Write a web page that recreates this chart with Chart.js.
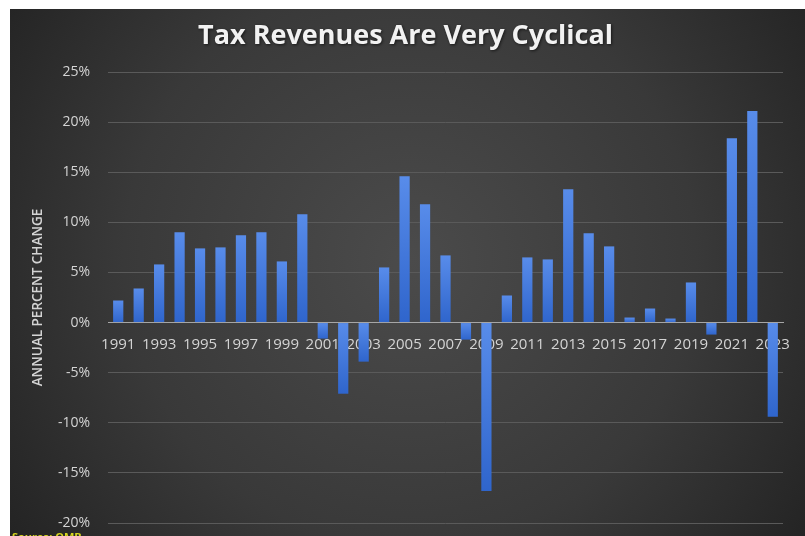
<!DOCTYPE html>
<html>
<head>
<meta charset="utf-8">
<script src="https://cdn.jsdelivr.net/npm/chart.js@4/dist/chart.umd.min.js"></script>
<style>
  html, body { margin: 0; padding: 0; background: #ffffff; }
  #wrap { width: 805px; height: 536px; position: relative; }
</style>
</head>
<body>
<div id="wrap"><canvas id="c" width="805" height="536"></canvas></div>
<script>
const titleText = 'Tax Revenues Are Very Cyclical';
const yAxisTitle = 'ANNUAL PERCENT CHANGE';
const sourceText = 'Source: OMB';
const years = ['1991','1992','1993','1994','1995','1996','1997','1998','1999','2000',
  '2001','2002','2003','2004','2005','2006','2007','2008','2009','2010',
  '2011','2012','2013','2014','2015','2016','2017','2018','2019','2020',
  '2021','2022','2023'];
const percentChange = [2.2, 3.4, 5.8, 9.0, 7.4, 7.5, 8.7, 9.0, 6.1, 10.8,
  -1.6, -7.1, -3.9, 5.5, 14.6, 11.8, 6.7, -1.7, -16.8, 2.7,
  6.5, 6.3, 13.3, 8.9, 7.6, 0.5, 1.4, 0.4, 4.0, -1.2,
  18.4, 21.1, -9.4];
const yTicks = [-20, -15, -10, -5, 0, 5, 10, 15, 20, 25];

const bgPlugin = {
  id: 'bg',
  beforeDraw(chart) {
    const ctx = chart.ctx;
    ctx.save();
    ctx.fillStyle = '#ffffff';
    ctx.fillRect(0, 0, chart.width, chart.height);
    const g = ctx.createRadialGradient(410, 260, 0, 410, 260, 520);
    g.addColorStop(0, '#4b4b4b');
    g.addColorStop(0.55, '#393939');
    g.addColorStop(1, '#202020');
    ctx.fillStyle = g;
    ctx.fillRect(10, 9, chart.width - 10, chart.height - 9);
    // title
    ctx.font = 'bold 27px "Open Sans"';
    ctx.fillStyle = '#f2f2f2';
    ctx.textAlign = 'center';
    ctx.textBaseline = 'middle';
    ctx.shadowColor = 'rgba(0,0,0,0.6)';
    ctx.shadowBlur = 3;
    ctx.shadowOffsetX = 1;
    ctx.shadowOffsetY = 1;
    ctx.fillText(titleText, 405.5, 36);
    ctx.restore();
  },
  afterDraw(chart) {
    const ctx = chart.ctx;
    ctx.save();
    ctx.font = 'bold 11px "Open Sans"';
    ctx.fillStyle = '#d6d61e';
    ctx.textBaseline = 'top';
    ctx.textAlign = 'left';
    ctx.fillText(sourceText, 12, 532);
    ctx.restore();
  }
};

function barFill(context) {
  const chart = context.chart;
  const ys = chart.scales.y;
  if (!chart.chartArea || !ys) return '#3d70d2';
  const v = context.raw;
  const p1 = ys.getPixelForValue(v);
  const p0 = ys.getPixelForValue(0);
  const top = Math.min(p0, p1), bot = Math.max(p0, p1);
  if (!isFinite(top) || bot - top < 1) return '#3d70d2';
  const g = chart.ctx.createLinearGradient(0, top, 0, bot);
  g.addColorStop(0, '#588cea');
  g.addColorStop(1, '#2f65cc');
  return g;
}

new Chart(document.getElementById('c'), {
  type: 'bar',
  data: {
    labels: years,
    datasets: [{
      data: percentChange,
      backgroundColor: barFill,
      borderWidth: 0,
      categoryPercentage: 1.0,
      barPercentage: 0.5
    }]
  },
  plugins: [bgPlugin],
  options: {
    responsive: false,
    animation: false,
    devicePixelRatio: 1,
    layout: { padding: { left: 8, right: 22, top: 72, bottom: 13 } },
    plugins: {
      legend: { display: false },
      tooltip: { enabled: false },
      title: { display: false }
    },
    scales: {
      x: {
        position: { y: 0 },
        afterFit(scale) { scale.height = 0; },
        grid: { display: false },
        border: { display: true, color: '#a6a6a6', width: 1 },
        ticks: {
          autoSkip: false,
          maxRotation: 0,
          minRotation: 0,
          padding: 5,
          color: '#d4d4d4',
          font: { family: 'Open Sans', size: 15 },
          callback: function(val, idx) { return idx % 2 === 0 ? this.getLabelForValue(val) : ''; }
        }
      },
      y: {
        min: -20,
        max: 25,
        afterBuildTicks(scale) { scale.ticks = yTicks.map(v => ({ value: v })); },
        afterFit(scale) { scale.width = 100; },
        grid: {
          drawTicks: true,
          tickLength: 16,
          tickColor: 'rgba(0,0,0,0)',
          color: (c) => c.tick && c.tick.value === 0 ? 'rgba(0,0,0,0)' : '#5a5a5a',
          lineWidth: 1
        },
        border: { display: false },
        ticks: {
          padding: 2,
          color: '#d4d4d4',
          font: { family: 'Open Sans', size: 14 },
          callback: (v) => v + '%'
        },
        title: {
          display: true,
          text: yAxisTitle,
          color: '#d4d4d4',
          font: { family: 'Open Sans', size: 13.5, weight: '600' },
          padding: { top: 22, bottom: 0 }
        }
      }
    }
  }
});
</script>
</body>
</html>
